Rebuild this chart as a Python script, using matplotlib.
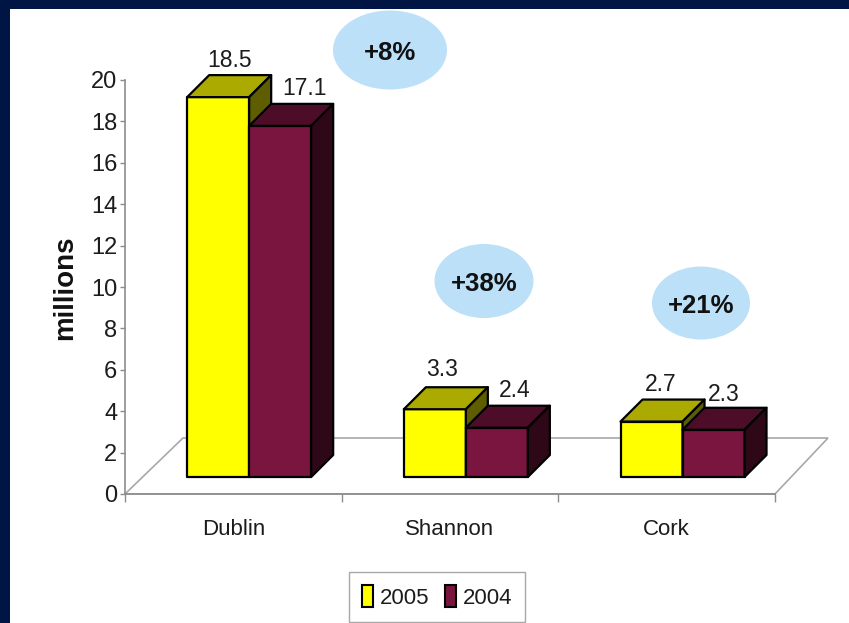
import matplotlib
matplotlib.use('Agg')
import matplotlib.pyplot as plt
from matplotlib.patches import Polygon, Ellipse, Patch, Rectangle

# Data
airports = ['Dublin', 'Shannon', 'Cork']
values_2005 = [18.5, 3.3, 2.7]
values_2004 = [17.1, 2.4, 2.3]
growth = ['+8%', '+38%', '+21%']
yticks = list(range(0, 21, 2))

# Sizes of the page and of the plot, in pixels
W, H = 849, 623
ax_left, ax_right, ax_top, ax_bottom = 125, 775, 80, 494
px_x = 3 / (ax_right - ax_left)
px_y = 20 / (ax_bottom - ax_top)

plt.rcParams['font.family'] = ['Liberation Sans']
text_color = '#1c1c1c'

fig = plt.figure(figsize=(W / 100, H / 100), dpi=100, facecolor='white')

# Page layer in pixels: frame and growth bubbles
page = fig.add_axes([0, 0, 1, 1])
page.set_xlim(0, W)
page.set_ylim(H, 0)
page.axis('off')
page.add_patch(Rectangle((0, 0), W, 9, color='#001543', lw=0))
page.add_patch(Rectangle((0, 0), 10, H, color='#001543', lw=0))

bubbles = [(390, 50, 114, 79), (484, 281, 99, 74), (701, 303, 98, 73)]
for (bx, by, bw, bh), label in zip(bubbles, growth):
    page.add_patch(Ellipse((bx, by), bw, bh, color='#BBE0F8', lw=0))
    page.text(bx, by + 3, label, ha='center', va='center', fontsize=18.5, fontweight='bold', color='#111111')

# Chart
ax = fig.add_axes([ax_left / W, 1 - ax_bottom / H, (ax_right - ax_left) / W, (ax_bottom - ax_top) / H])
ax.patch.set_alpha(0)
ax.set_xlim(0, 3)
ax.set_ylim(0, 20)
for side in ['top', 'right']:
    ax.spines[side].set_visible(False)
for side in ['left', 'bottom']:
    ax.spines[side].set_color('#8c8c8c')
    ax.spines[side].set_linewidth(1.2)

# Floor of the 3D box
floor_x = 58 * px_x
floor_y = 56 * px_y
floor_right = 53 * px_x
ax.add_patch(Polygon([(0, 0), (floor_x, floor_y), (3 + floor_right, floor_y), (3, 0)],
                     facecolor='white', edgecolor='#a8a8a8', lw=1.2, clip_on=False, zorder=1))

bar_width = 62 * px_x
depth_x = 22 * px_x
depth_y = 22 * px_y
base = 17 * px_y
bar_start = 0.287
front_scale = 0.992  # the front plane is a bit shorter than the axis


def draw_bar(left, value, front, top, side):
    right = left + bar_width
    y0 = base
    y1 = base + value * front_scale
    style = dict(edgecolor='black', lw=1.6, joinstyle='round', clip_on=False, zorder=3)
    ax.add_patch(Polygon([(left, y0), (right, y0), (right, y1), (left, y1)], facecolor=front, **style))
    ax.add_patch(Polygon([(left, y1), (right, y1), (right + depth_x, y1 + depth_y), (left + depth_x, y1 + depth_y)],
                         facecolor=top, **style))
    ax.add_patch(Polygon([(right, y0), (right + depth_x, y0 + depth_y), (right + depth_x, y1 + depth_y), (right, y1)],
                         facecolor=side, **style))


# Offsets of the value labels from the back edge of each bar, in pixels
label_dx = [(0, 13), (-4, 7), (-2, -1)]
label_dy = [(15, 15), (18, 15), (15, 13)]

for i in range(len(airports)):
    left = i + bar_start
    draw_bar(left, values_2005[i], '#FFFF00', '#AAAA00', '#5E5E00')
    draw_bar(left + bar_width, values_2004[i], '#7A153F', '#4D0D28', '#2E0816')
    for j, value in enumerate([values_2005[i], values_2004[i]]):
        ax.annotate(str(value),
                    (left + j * bar_width + bar_width / 2 + depth_x / 2, base + value * front_scale + depth_y),
                    xytext=(label_dx[i][j] * 0.72, label_dy[i][j] * 0.72), textcoords='offset points',
                    ha='center', va='center', fontsize=16.5, color=text_color,
                    annotation_clip=False, zorder=4)

ax.set_yticks(yticks)
ax.set_yticklabels([str(t) for t in yticks], fontsize=17, color=text_color)
ax.tick_params(axis='y', length=3.6, width=1, color='#8c8c8c', pad=2)
ax.set_xticks([0, 1, 2, 3])
ax.set_xticklabels([])
ax.set_xticks([i + 0.5 for i in range(len(airports))], minor=True)
ax.set_xticklabels(airports, minor=True, fontsize=16, color=text_color)
ax.tick_params(axis='x', which='major', length=5.5, width=1, color='#8c8c8c')
ax.tick_params(axis='x', which='minor', length=0, pad=18)

ax.set_ylabel('millions', fontsize=20, fontweight='bold', color='#111111', va='center')
ax.yaxis.set_label_coords((65 - ax_left) / (ax_right - ax_left), (ax_bottom - 288) / (ax_bottom - ax_top))

# Legend
handles = [Patch(facecolor='#FFFF00', edgecolor='black', lw=1.5, label='2005'),
           Patch(facecolor='#7A153F', edgecolor='black', lw=1.5, label='2004')]
legend = fig.legend(handles=handles, ncol=2, loc='center', bbox_to_anchor=(437 / W, 1 - 597 / H),
                    prop={'size': 16}, fancybox=False, framealpha=1,
                    edgecolor='#a8a8a8', handlelength=0.5, handleheight=1.1, handletextpad=0.3,
                    columnspacing=0.7, borderpad=0.6, borderaxespad=0, labelcolor=text_color)

plt.savefig('out.png', dpi=100)
plt.close()
